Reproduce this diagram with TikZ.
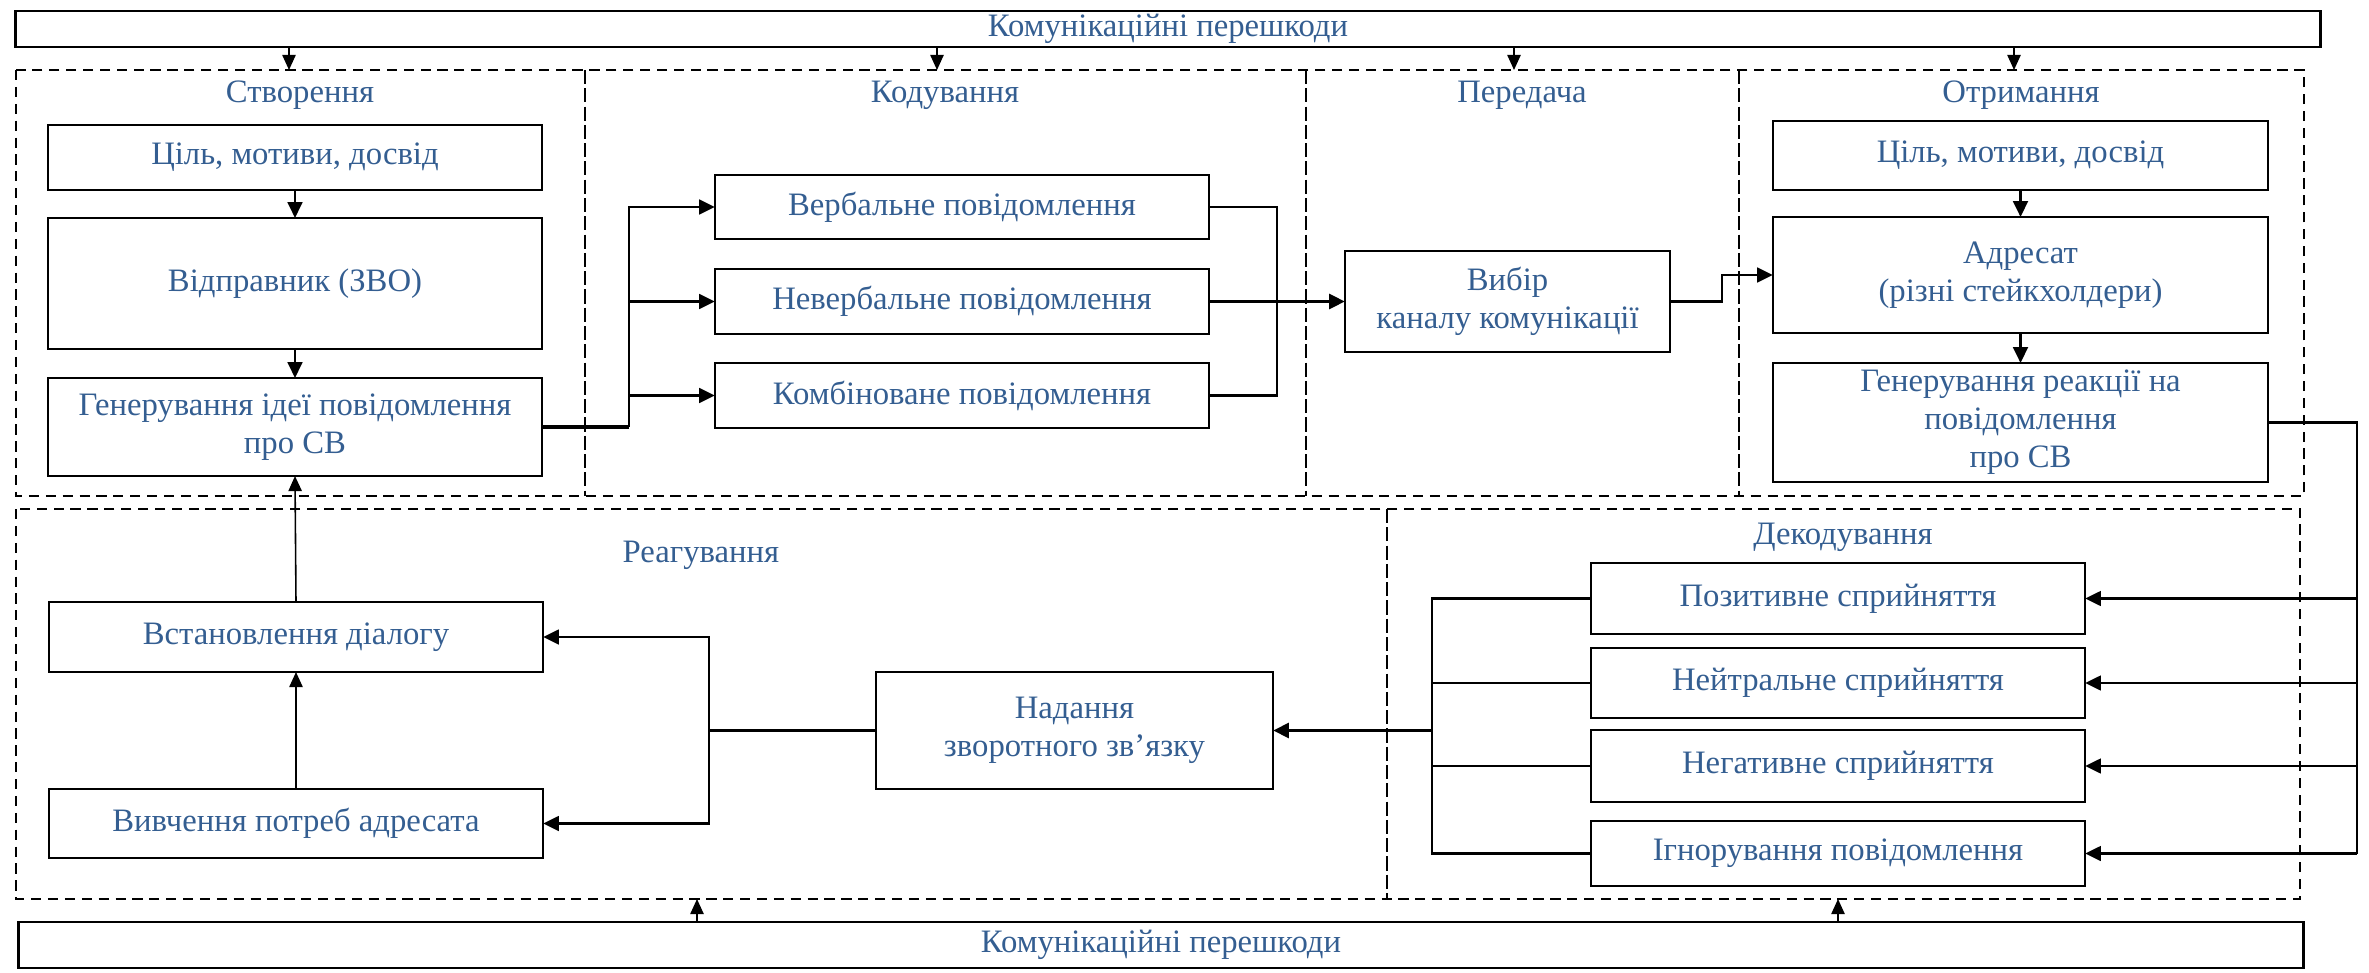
\documentclass[tikz,border=0pt]{standalone}
\usepackage{fontspec}
\setmainfont{Liberation Serif}
\usetikzlibrary{arrows.meta}
\definecolor{txtblue}{RGB}{52,94,145}
\tikzset{
  box/.style={draw=black, line width=0.75pt, inner sep=0pt, outer sep=0pt, align=center, text=txtblue, font=\fontsize{9.3pt}{10.8pt}\selectfont},
  title/.style={inner sep=0pt, text=txtblue, font=\fontsize{9.3pt}{10.8pt}\selectfont},
  conn/.style={line width=0.7pt},
  thickconn/.style={line width=1pt},
  arr/.style={line width=0.7pt, -{Triangle[length=4.5pt,width=4.2pt]}},
  thickarr/.style={line width=1pt, -{Triangle[length=4.5pt,width=4.2pt]}},
  thinarr/.style={line width=0.45pt, -{Triangle[length=4.3pt,width=3.8pt]}},
  frame/.style={line width=0.7pt, dash pattern=on 2.9pt off 1.9pt},
  divider/.style={line width=0.45pt, dash pattern=on 4pt off 1.2pt}
}
\begin{document}
\begin{tikzpicture}[x=0.01cm, y=-0.01cm]
\useasboundingbox (0,0) rectangle (2369,973);

% frames
\draw[frame] (16,70) rectangle (2304,496);
\draw[frame] (16,509) rectangle (2300,899);
\draw[divider] (585,70) -- (585,496);
\draw[divider] (1306,70) -- (1306,496);
\draw[divider] (1739,70) -- (1739,496);
\draw[divider] (1387,509) -- (1387,899);

% top and bottom boxes
\node[box, minimum width=23.04cm, minimum height=0.36cm] (top) at (1168,29) {Комунікаційні перешкоди};
\node[box, minimum width=22.84cm, minimum height=0.46cm] (bot) at (1161,945) {Комунікаційні перешкоди};

% section titles
\node[title] (t1) at (300,95) {Створення};
\node[title] (t2) at (945,95) {Кодування};
\node[title] (t3) at (1522,95) {Передача};
\node[title] (t4) at (2021,95) {Отримання};
\node[title] (t5) at (701,555) {Реагування};
\node[title] (t6) at (1843,537) {Декодування};

% creation
\node[box, minimum width=4.94cm, minimum height=0.65cm] (c1) at (295,157.5) {Ціль, мотиви, досвід};
\node[box, minimum width=4.94cm, minimum height=1.31cm] (c2) at (295,283.5) {Відправник (ЗВО)};
\node[box, minimum width=4.94cm, minimum height=0.98cm] (c3) at (295,427) {Генерування ідеї повідомлення\\про СВ};

% coding
\node[box, minimum width=4.94cm, minimum height=0.64cm] (k1) at (962,207) {Вербальне повідомлення};
\node[box, minimum width=4.94cm, minimum height=0.65cm] (k2) at (962,301.5) {Невербальне повідомлення};
\node[box, minimum width=4.94cm, minimum height=0.65cm] (k3) at (962,395.5) {Комбіноване повідомлення};

% transmission
\node[box, minimum width=3.25cm, minimum height=1.01cm] (v) at (1507.5,301.5) {Вибір\\каналу комунікації};

% receiving
\node[box, minimum width=4.95cm, minimum height=0.69cm] (r1) at (2020.5,155.5) {Ціль, мотиви, досвід};
\node[box, minimum width=4.95cm, minimum height=1.16cm] (r2) at (2020.5,275) {Адресат\\(різні стейкхолдери)};
\node[box, minimum width=4.95cm, minimum height=1.19cm] (r3) at (2020.5,422.5) {Генерування реакції на\\повідомлення\\про СВ};

% decoding
\node[box, minimum width=4.94cm, minimum height=0.71cm] (d1) at (1838,598.5) {Позитивне сприйняття};
\node[box, minimum width=4.94cm, minimum height=0.70cm] (d2) at (1838,683) {Нейтральне сприйняття};
\node[box, minimum width=4.94cm, minimum height=0.72cm] (d3) at (1838,766) {Негативне сприйняття};
\node[box, minimum width=4.94cm, minimum height=0.65cm] (d4) at (1838,853.5) {Ігнорування повідомлення};

% reaction
\node[box, minimum width=4.94cm, minimum height=0.70cm] (a1) at (296,637) {Встановлення діалогу};
\node[box, minimum width=4.94cm, minimum height=0.69cm] (a2) at (296,823.5) {Вивчення потреб адресата};
\node[box, minimum width=3.97cm, minimum height=1.17cm] (n) at (1074.5,730.5) {Надання\\зворотного зв’язку};

% top noise arrows
\coordinate (f1) at (289,70);
\coordinate (f2) at (937,70);
\coordinate (f3) at (1514,70);
\coordinate (f4) at (2014,70);
\foreach \f in {f1,f2,f3,f4} \draw[thinarr] (top.south -| \f) -- (\f);

% bottom noise arrows
\coordinate (g1) at (697,899);
\coordinate (g2) at (1838,899);
\foreach \g in {g1,g2} \draw[thinarr] (bot.north -| \g) -- (\g);

% creation chain
\draw[arr] (c1.south) -- (c2.north);
\draw[arr] (c2.south) -- (c3.north);

% to coding
\coordinate (bx) at (629,427);
\draw[thickconn] (c3.east) -- (bx);
\draw[arr] (bx) |- (k1.west);
\draw[arr] (bx) |- (k2.west);
\draw[arr] (bx) |- (k3.west);

% coding to transmission
\coordinate (mx) at (1277,301.5);
\draw[conn] (k1.east) -| (mx);
\draw[conn] (k3.east) -| (mx);
\draw[thickarr] (k2.east) -- (v.west);

% transmission to receiving
\coordinate (vx) at (1722,301.5);
\draw[arr] (v.east) -- (vx) |- (r2.west);

% receiving chain
\draw[arr] (r1.south) -- (r2.north);
\draw[arr] (r2.south) -- (r3.north);

% receiving to decoding
\coordinate (rx) at (2357,422.5);
\draw[conn] (r3.east) -- (rx) -- (rx |- d4.east);
\foreach \d in {d1,d2,d3,d4} \draw[arr] (rx |- \d.east) -- (\d.east);

% decoding to feedback
\coordinate (dx) at (1432,730.5);
\draw[conn] (d1.west) -| (dx);
\draw[conn] (d4.west) -| (dx);
\draw[conn] (d2.west) -- (d2.west -| dx);
\draw[conn] (d3.west) -- (d3.west -| dx);
\draw[thickarr] (dx) -- (n.east);

% feedback to reaction
\coordinate (nx) at (709,730.5);
\draw[conn] (n.west) -- (nx);
\draw[arr] (nx) |- (a1.east);
\draw[arr] (nx) |- (a2.east);

% reaction chain
\draw[thinarr] (a2.north) -- (a1.north |- a2.north) -- (a1.south);
\draw[thinarr] (a1.north) -- (c3.south);
\end{tikzpicture}
\end{document}
